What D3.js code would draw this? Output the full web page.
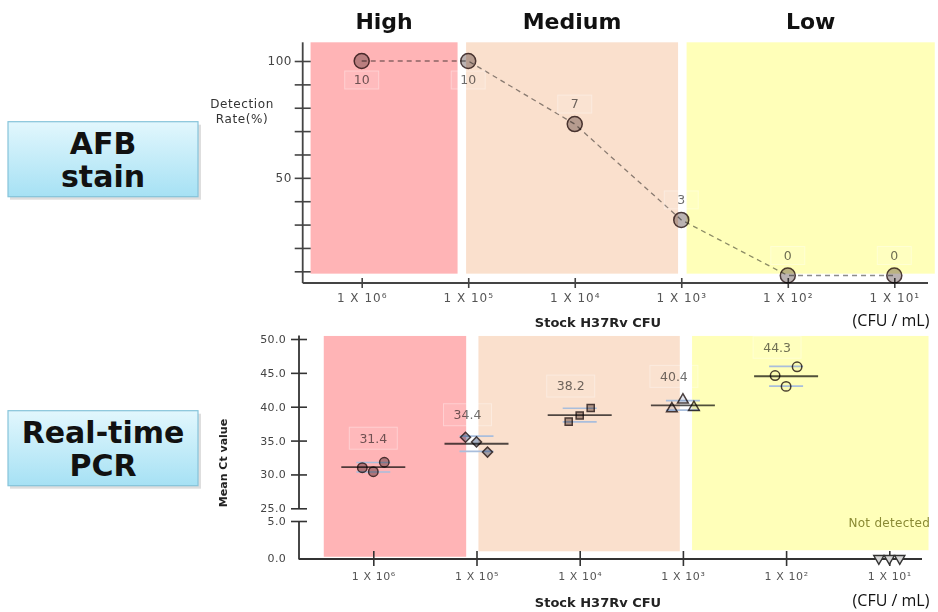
<!DOCTYPE html>
<html>
<head>
<meta charset="utf-8">
<script src="https://cdn.jsdelivr.net/npm/d3@7"></script>
<style>
  body { margin: 0; background: #fff; }
  svg { display: block; font-family: "DejaVu Sans", sans-serif; }
  .mult { mix-blend-mode: multiply; }
</style>
</head>
<body>
<div id="chart"></div>
<script>
// dilution categories (x axis)
var doseLabels = ["1 X 10⁶", "1 X 10⁵", "1 X 10⁴", "1 X 10³", "1 X 10²", "1 X 10¹"];

// bacterial load groups, spanning dilution index ranges
var loadNames = ["High", "Medium", "Low"];
var loadFrom = [-0.48, 0.98, 3.05];
var loadTo = [0.9, 2.97, 5.38];

// AFB stain: detection rate (%) and number positive (of 10)
var afbRate = [100, 100, 73, 32, 0, 0];
var afbCount = [10, 10, 7, 3, 0, 0];
var afbTicks = [10, 20, 30, 40, 50, 60, 70, 80, 90, 100];

// Real-time PCR: Ct of three replicates and reported mean
var ctReps = [[31.0, 30.4, 31.8], [35.5, 34.8, 33.3], [37.8, 38.7, 39.8], [39.7, 41.0, 39.9], [44.6, 43.0, 45.9], []];
var ctMean = [31.4, 34.4, 38.2, 40.4, 44.3, null];
var ctTicksUpper = [25, 30, 35, 40, 45, 50];
var ctTicksLower = [0, 5];

var bandColors = ["#ffb4b6", "#fae0cd", "#ffffb9"];

var svg = d3.select("#chart")
  .append("svg")
    .attr("width", 938)
    .attr("height", 612);

// gradient for the method boxes
var grad = svg.append("defs").append("linearGradient")
    .attr("id", "boxGrad").attr("x1", 0).attr("y1", 0).attr("x2", 0).attr("y2", 1);
grad.append("stop").attr("offset", "0%").attr("stop-color", "#e2f7fd");
grad.append("stop").attr("offset", "100%").attr("stop-color", "#a6e1f4");

// ---------- top chart: AFB stain ----------
var xTop = d3.scaleLinear().domain([0, 5]).range([361.7, 894.3]);
var yTop = d3.scaleLinear().domain([5, 100]).range([283, 61]);
var rTop = 7.5;
// points at 0 sit on the axis
var cyTop = function(v) { return Math.min(yTop(v), yTop(5) - rTop); };

var gTop = svg.append("g");

gTop.selectAll(".band")
  .data(loadNames)
  .enter()
  .append("rect")
    .attr("x", function(d, i) { return xTop(loadFrom[i]); })
    .attr("width", function(d, i) { return xTop(loadTo[i]) - xTop(loadFrom[i]); })
    .attr("y", yTop(108))
    .attr("height", yTop(9) - yTop(108))
    .style("fill", function(d, i) { return bandColors[i]; });

// group headings
gTop.selectAll(".head")
  .data(loadNames)
  .enter()
  .append("text")
    .attr("x", function(d, i) { return (xTop(loadFrom[i]) + xTop(loadTo[i])) / 2; })
    .attr("y", 29)
    .attr("text-anchor", "middle")
    .style("font-size", "22px")
    .style("font-weight", "bold")
    .style("fill", "#111")
    .text(function(d) { return d; });

// y axis
var yAxTop = gTop.append("g")
  .attr("transform", "translate(302.7,0)")
  .call(d3.axisLeft(yTop).tickValues(afbTicks).tickSize(8).tickPadding(3)
    .tickFormat(function(d) { return (d === 100 || d === 50) ? d : ""; }));
yAxTop.select(".domain").remove();
yAxTop.selectAll(".tick line").attr("x1", 8).attr("stroke", "#444").attr("stroke-width", 1.6);
yAxTop.selectAll(".tick text").style("font-size", "12px").style("fill", "#444").style("font-family", "DejaVu Sans").style("letter-spacing", "0.4px");
gTop.append("line").attr("x1", 302.7).attr("x2", 302.7).attr("y1", yTop(108)).attr("y2", yTop(5))
  .attr("stroke", "#444").attr("stroke-width", 1.8);

// x axis
var xAxTop = gTop.append("g")
  .attr("transform", "translate(0," + yTop(5) + ")")
  .call(d3.axisBottom(xTop).tickValues(d3.range(doseLabels.length)).tickSize(5).tickPadding(5)
    .tickFormat(function(i) { return doseLabels[i]; }));
xAxTop.select(".domain").remove();
xAxTop.selectAll(".tick line").attr("y1", -5).attr("stroke", "#444").attr("stroke-width", 1.6);
xAxTop.selectAll(".tick text").style("font-size", "12px").style("fill", "#555").style("font-family", "DejaVu Sans").style("letter-spacing", "1px");
gTop.append("line").attr("x1", 302.7).attr("x2", 928).attr("y1", yTop(5)).attr("y2", yTop(5))
  .attr("stroke", "#444").attr("stroke-width", 1.8);

// dashed trend line
var afbLine = d3.line()
  .x(function(d, i) { return xTop(i); })
  .y(function(d) { return cyTop(d); });
gTop.append("path")
  .datum(afbRate)
  .attr("class", "mult")
  .attr("d", afbLine)
  .attr("fill", "none")
  .attr("stroke", "#8c8c8c")
  .attr("stroke-width", 1.3)
  .attr("stroke-dasharray", "5,4");

gTop.selectAll(".afbPt")
  .data(afbRate)
  .enter()
  .append("circle")
    .attr("class", "mult")
    .attr("cx", function(d, i) { return xTop(i); })
    .attr("cy", function(d) { return cyTop(d); })
    .attr("r", rTop)
    .style("fill", "#bab2b2")
    .style("stroke", "#4a3a3a")
    .style("stroke-width", 1.5);

// count labels with faint boxes
var afbLab = gTop.selectAll(".afbLab")
  .data(afbCount)
  .enter()
  .append("g")
    .attr("transform", function(d, i) {
      var off = afbRate[i] >= 100 ? 19 : -20;
      return "translate(" + xTop(i) + "," + (cyTop(afbRate[i]) + off) + ")";
    });
afbLab.append("rect")
  .attr("x", -17).attr("y", -9).attr("width", 34).attr("height", 18)
  .style("fill", "#fff").style("fill-opacity", 0.1)
  .style("stroke", "#fff").style("stroke-opacity", 0.35);
afbLab.append("text")
  .attr("class", "mult")
  .attr("text-anchor", "middle")
  .attr("dy", "0.35em")
  .style("font-size", "12.5px")
  .style("fill", "#6e6e6e")
  .text(function(d) { return d; });

// y label
gTop.append("text")
  .attr("x", 242).attr("y", 108)
  .attr("text-anchor", "middle")
  .style("font-size", "12px").style("fill", "#333").style("letter-spacing", "0.6px")
  .text("Detection");
gTop.append("text")
  .attr("x", 242).attr("y", 123)
  .attr("text-anchor", "middle")
  .style("font-size", "12px").style("fill", "#333").style("letter-spacing", "0.6px")
  .text("Rate(%)");

// x label
gTop.append("text")
  .attr("x", 598).attr("y", 327)
  .attr("text-anchor", "middle")
  .style("font-size", "13px").style("font-weight", "bold").style("fill", "#222")
  .text("Stock H37Rv CFU");
gTop.append("text")
  .attr("x", 891).attr("y", 326)
  .attr("text-anchor", "middle")
  .style("font-size", "16px").style("fill", "#111").style("font-family", "Open Sans")
  .text("(CFU / mL)");

// ---------- bottom chart: real-time PCR ----------
var xBot = d3.scaleLinear().domain([0, 5]).range([373.3, 889.3]);
var yUp = d3.scaleLinear().domain([25, 50]).range([508.3, 339]);
var yLo = d3.scaleLinear().domain([0, 5]).range([557.5, 521]);
var yCt = function(v) { return v >= 25 ? yUp(v) : yLo(v); };
var bandFloor = [0.1, 0.85, 1.0];

var gBot = svg.append("g");

gBot.selectAll(".band")
  .data(loadNames)
  .enter()
  .append("rect")
    .attr("x", function(d, i) { return xBot(loadFrom[i]) + (i === 0 ? 0 : 4); })
    .attr("width", function(d, i) { return xBot(loadTo[i]) - xBot(loadFrom[i]) - (i === 0 ? 0 : 4); })
    .attr("y", yUp(50.45))
    .attr("height", function(d, i) { return yLo(bandFloor[i]) - yUp(50.45); })
    .style("fill", function(d, i) { return bandColors[i]; });

// broken y axis
var yAxUp = gBot.append("g")
  .attr("transform", "translate(299,0)")
  .call(d3.axisLeft(yUp).tickValues(ctTicksUpper).tickSize(8).tickPadding(5).tickFormat(d3.format(".1f")));
var yAxLo = gBot.append("g")
  .attr("transform", "translate(299,0)")
  .call(d3.axisLeft(yLo).tickValues(ctTicksLower).tickSize(8).tickPadding(5).tickFormat(d3.format(".1f")));
[yAxUp, yAxLo].forEach(function(ax) {
  ax.select(".domain").remove();
  ax.selectAll(".tick line").attr("x1", 8).attr("stroke", "#333").attr("stroke-width", 1.6);
  ax.selectAll(".tick text").style("font-size", "11px").style("fill", "#444").style("font-family", "DejaVu Sans").style("letter-spacing", "0.3px");
});
yAxLo.selectAll(".tick line").filter(function(d) { return d === 0; }).remove();
gBot.append("line").attr("x1", 299).attr("x2", 299).attr("y1", yUp(50.5)).attr("y2", yUp(25))
  .attr("stroke", "#333").attr("stroke-width", 1.8);
gBot.append("line").attr("x1", 299).attr("x2", 299).attr("y1", yLo(5)).attr("y2", yLo(0) + 2)
  .attr("stroke", "#333").attr("stroke-width", 1.8);

// x axis
var xAxBot = gBot.append("g")
  .attr("transform", "translate(0," + (yLo(0) + 1.5) + ")")
  .call(d3.axisBottom(xBot).tickValues(d3.range(doseLabels.length)).tickSize(7).tickPadding(6)
    .tickFormat(function(i) { return doseLabels[i]; }));
xAxBot.select(".domain").remove();
xAxBot.selectAll(".tick line").attr("y1", -8).attr("stroke", "#333").attr("stroke-width", 1.6);
xAxBot.selectAll(".tick text").style("font-size", "11px").style("fill", "#555").style("font-family", "DejaVu Sans").style("letter-spacing", "0.6px");
gBot.append("line").attr("x1", 299).attr("x2", 922).attr("y1", yLo(0) + 1.5).attr("y2", yLo(0) + 1.5)
  .attr("stroke", "#333").attr("stroke-width", 1.8);

// replicate groups
var jitter = [-11, 0, 11];
var shapes = [d3.symbolCircle, d3.symbolSquare, d3.symbolSquare, d3.symbolTriangle, d3.symbolCircle];
var shapeRot = [0, 45, 0, 0, 0];
var shapeSize = [70, 50, 50, 50, 70];
var fills = ["#b0a4a8", "#a9b4c8", "#b4a8a4", "#e4e8f0", "#fbfbf4"];

var groups = gBot.selectAll(".ctGroup")
  .data(ctReps.filter(function(r) { return r.length > 0; }))
  .enter()
  .append("g");

// SD whiskers, mean line and replicate markers
groups.each(function(reps, i) {
  var g = d3.select(this);
  var m = d3.mean(reps), sd = d3.deviation(reps);
  var cx = xBot(i);
  [m - sd, m + sd].forEach(function(v) {
    g.append("line")
      .attr("x1", cx - 17).attr("x2", cx + 17)
      .attr("y1", yCt(v)).attr("y2", yCt(v))
      .attr("stroke", "#a9bedc").attr("stroke-width", 1.6);
  });
  g.append("line")
    .attr("class", "mult")
    .attr("x1", cx - 32).attr("x2", cx + 32)
    .attr("y1", yCt(m)).attr("y2", yCt(m))
    .attr("stroke", "#505050").attr("stroke-width", 1.8);
  g.selectAll("path")
    .data(reps)
    .enter()
    .append("path")
      .attr("class", "mult")
      .attr("transform", function(d, j) {
        return "translate(" + (cx + jitter[j]) + "," + yCt(d) + ") rotate(" + shapeRot[i] + ")";
      })
      .attr("d", d3.symbol().type(shapes[i]).size(shapeSize[i]))
      .style("fill", fills[i])
      .style("stroke", "#4a4040")
      .style("stroke-width", 1.5);
});

// mean labels
var ctLab = gBot.selectAll(".ctLab")
  .data(ctMean.filter(function(d) { return d !== null; }))
  .enter()
  .append("g")
    .attr("transform", function(d, i) {
      return "translate(" + (xBot(i) - (i === 0 ? 0 : 9)) + "," + (yCt(d3.mean(ctReps[i])) - 29) + ")";
    });
ctLab.append("rect")
  .attr("x", -24).attr("y", -11).attr("width", 48).attr("height", 22)
  .style("fill", "#fff").style("fill-opacity", 0.08)
  .style("stroke", "#fff").style("stroke-opacity", 0.35);
ctLab.append("text")
  .attr("class", "mult")
  .attr("text-anchor", "middle")
  .attr("dy", "0.35em")
  .style("font-size", "12.5px")
  .style("fill", "#707070")
  .text(function(d) { return d.toFixed(1); });

// not detected at the lowest dilution
var ndIdx = ctReps.findIndex(function(r) { return r.length === 0; });
gBot.selectAll(".nd")
  .data(jitter)
  .enter()
  .append("path")
    .attr("transform", function(d) { return "translate(" + (xBot(ndIdx) + d * 0.95) + "," + (yLo(0) + 1) + ") rotate(180)"; })
    .attr("d", d3.symbol().type(d3.symbolTriangle).size(45))
    .style("fill", "#d8d8d8")
    .style("stroke", "#333")
    .style("stroke-width", 1.4);
gBot.append("text")
  .attr("x", xBot(ndIdx))
  .attr("y", yLo(0) - 31)
  .attr("text-anchor", "middle")
  .style("font-size", "12px")
  .style("fill", "#8a8a34")
  .style("letter-spacing", "0.3px")
  .text("Not detected");

// y label
gBot.append("text")
  .attr("transform", "translate(227," + 463 + ") rotate(-90)")
  .attr("text-anchor", "middle")
  .style("font-size", "11px").style("font-weight", "bold").style("fill", "#222")
  .text("Mean Ct value");

// x label
gBot.append("text")
  .attr("x", 598).attr("y", 607)
  .attr("text-anchor", "middle")
  .style("font-size", "13px").style("font-weight", "bold").style("fill", "#222")
  .text("Stock H37Rv CFU");
gBot.append("text")
  .attr("x", 891).attr("y", 606)
  .attr("text-anchor", "middle")
  .style("font-size", "16px").style("fill", "#111").style("font-family", "Open Sans")
  .text("(CFU / mL)");

// ---------- method boxes ----------
var methods = [["AFB", "stain"], ["Real-time", "PCR"]];
var boxTop = [121.7, 410.7];
methods.forEach(function(lines, k) {
  var g = svg.append("g").attr("transform", "translate(8," + boxTop[k] + ")");
  g.append("rect")
    .attr("x", 2).attr("y", 3).attr("width", 191).attr("height", 75)
    .style("fill", "#c8c8c8").style("opacity", 0.6);
  g.append("rect")
    .attr("width", 190).attr("height", 75)
    .style("fill", "url(#boxGrad)")
    .style("stroke", "#86c4da")
    .style("stroke-width", 1.2);
  lines.forEach(function(t, j) {
    g.append("text")
      .attr("x", 95)
      .attr("y", 32 + j * 33)
      .attr("text-anchor", "middle")
      .style("font-size", "30px")
      .style("font-weight", "bold")
      .style("fill", "#111")
      .text(t);
  });
});
</script>
</body>
</html>
